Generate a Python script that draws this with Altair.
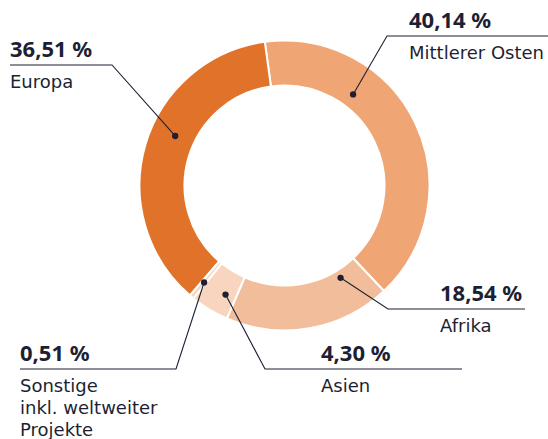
import math
import altair as alt
import pandas as pd

# ---- data ----
categories = ["Mittlerer Osten", "Afrika", "Asien", "Sonstige inkl. weltweiter Projekte", "Europa"]
shares = [40.14, 18.54, 4.30, 0.51, 36.51]
label_lines = [["Mittlerer Osten"], ["Afrika"], ["Asien"], ["Sonstige", "inkl. weltweiter", "Projekte"], ["Europa"]]
colors = ["#F0A574", "#F2BD9A", "#F7D5BE", "#F7D5BE", "#E07329"]

# ---- layout (pixels) ----
W, H = 548, 439
CX, CY = 284.5, 185.5
R_IN, R_OUT = 100, 145
START_DEG = -7.8
dot_frac = [0.31, 0.18, 0.32, 0.4, 0.56]
dot_r = [114, 108, 124, 126, 120]
elbow = [(387, 36), (388, 309), (265, 369), (176, 369), (112, 65)]
line_end_x = [548, 525, 462, 20, 10]
text_x = [409, 440, 321, 20, 10]
INK = "#1e1f33"
PCT_FONT = "Noto Sans"
LAB_FONT = "DejaVu Sans"

fmt = lambda v: f"{v:.2f}".replace(".", ",") + " %"

arc_df = pd.DataFrame({"cat": categories, "share": shares, "idx": range(len(shares))})

dots, lines, pct, labs = [], [], [], []
cum = 0.0
for i, (c, s) in enumerate(zip(categories, shares)):
    a = math.radians(START_DEG + (cum + dot_frac[i] * s) / 100 * 360)
    dx = CX + dot_r[i] * math.sin(a)
    dy = CY - dot_r[i] * math.cos(a)
    cum += s
    dots.append({"cat": c, "px": dx, "py": dy})
    ex, ey = elbow[i]
    for k, (x, y) in enumerate([(dx, dy), (ex, ey), (line_end_x[i], ey)]):
        lines.append({"cat": c, "seq": k, "px": x, "py": y})
    pct.append({"cat": c, "px": text_x[i], "py": ey - 8, "t": fmt(s)})
    for j, t in enumerate(label_lines[i]):
        labs.append({"cat": c, "px": text_x[i], "py": ey + 23 + 22 * j, "t": t})

xs = alt.Scale(domain=[0, W], range=[0, W])
ys = alt.Scale(domain=[0, H], range=[0, H])
X = alt.X("px:Q", scale=xs, axis=None)
Y = alt.Y("py:Q", scale=ys, axis=None)

a0 = math.radians(START_DEG)
arcs = alt.Chart(arc_df).mark_arc(
    innerRadius=R_IN, outerRadius=R_OUT, stroke="white", strokeWidth=2, x=CX, y=CY
).encode(
    theta=alt.Theta("share:Q", stack=True, scale=alt.Scale(range=[a0, a0 + 2 * math.pi])),
    color=alt.Color("cat:N", scale=alt.Scale(domain=categories, range=colors), legend=None),
    order=alt.Order("idx:Q", sort="ascending"),
)

leader = alt.Chart(pd.DataFrame(lines)).mark_line(color=INK, strokeWidth=1.1).encode(
    x=X, y=Y, detail="cat:N", order="seq:Q"
)
dot = alt.Chart(pd.DataFrame(dots)).mark_circle(size=40, color=INK, opacity=1).encode(x=X, y=Y)
ptxt = alt.Chart(pd.DataFrame(pct)).mark_text(
    font=PCT_FONT, fontSize=22, fontWeight="bold", color=INK, align="left", baseline="alphabetic"
).encode(x=X, y=Y, text="t:N")
ltxt = alt.Chart(pd.DataFrame(labs)).mark_text(
    font=LAB_FONT, fontSize=18, color=INK, align="left", baseline="alphabetic"
).encode(x=X, y=Y, text="t:N")

chart = alt.layer(arcs, leader, dot, ptxt, ltxt).properties(
    width=W, height=H, padding=0, autosize="none"
).configure_view(stroke=None)

chart.save("out.html", embed_options={"renderer": "svg", "actions": False})
